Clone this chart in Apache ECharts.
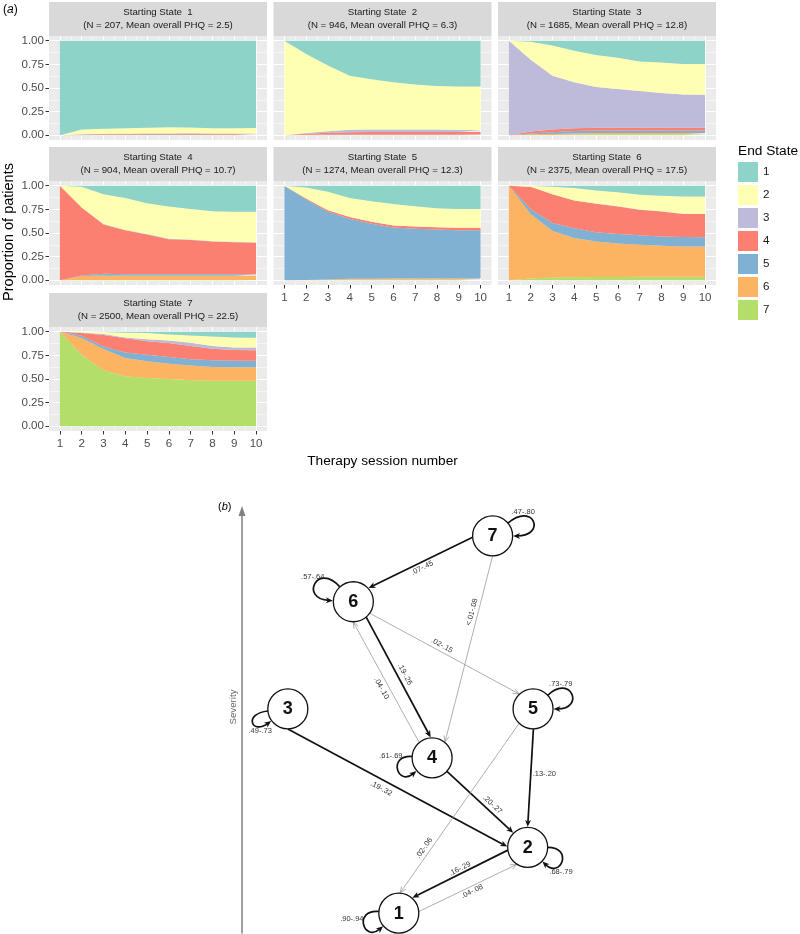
<!DOCTYPE html>
<html><head><meta charset="utf-8">
<script src="https://cdn.jsdelivr.net/npm/echarts@6/dist/echarts.min.js"></script>
<style>html,body{margin:0;padding:0;background:#fff}#c{width:800px;height:934px}</style>
</head><body><div id="c"></div>
<script>
// ---------------- DATA ----------------
const sessions = [1,2,3,4,5,6,7,8,9,10];
const sessionLabels = ['1','2','3','4','5','6','7','8','9','10'];
const endStates = ['1','2','3','4','5','6','7'];
const yTicks = [0, 0.25, 0.5, 0.75, 1];
const yMinorTicks = [0.125, 0.375, 0.625, 0.875];
const xMinorTicks = [1.5, 2.5, 3.5, 4.5, 5.5, 6.5, 7.5, 8.5, 9.5];
const startN = [207, 946, 1685, 904, 1274, 2375, 2500];
const startMeanPHQ = ['2.5', '6.3', '12.8', '10.7', '12.3', '17.5', '22.5'];

// proportion in each end state (rows: end state 1..7) by session 1..10
const start1 = [
  [1, .94, .93, .925, .92, .915, .918, .925, .925, .922],
  [0, .05, .055, .058, .06, .065, .06, .056, .056, .059],
  [0, .002, .002, .002, .002, .002, .002, .002, .002, .002],
  [0, .005, .006, .008, .008, .008, .01, .01, .01, .01],
  [0, .003, .005, .005, .008, .008, .008, .005, .005, .005],
  [0, 0, .002, .002, .002, .002, .002, .002, .002, .002],
  [0, 0, 0, 0, 0, 0, 0, 0, 0, 0]
];
const start2 = [
  [0, .14, .263, .37, .407, .439, .463, .48, .484, .484],
  [1, .835, .695, .572, .533, .501, .477, .46, .459, .461],
  [0, .01, .015, .025, .025, .025, .025, .025, .022, .02],
  [0, .01, .02, .025, .027, .027, .027, .027, .027, .027],
  [0, .003, .004, .005, .005, .005, .005, .005, .005, .005],
  [0, .002, .003, .003, .003, .003, .003, .003, .003, .003],
  [0, 0, 0, 0, 0, 0, 0, 0, 0, 0]
];
const start3 = [
  [0, .01, .05, .105, .15, .18, .22, .23, .246, .246],
  [0, .19, .32, .335, .34, .33, .313, .324, .324, .326],
  [1, .76, .57, .485, .43, .41, .387, .366, .35, .348],
  [0, .02, .028, .03, .03, .03, .03, .03, .03, .03],
  [0, .01, .018, .025, .025, .025, .025, .025, .025, .025],
  [0, .007, .01, .012, .015, .015, .015, .015, .015, .015],
  [0, .003, .004, .008, .01, .01, .01, .01, .01, .01]
];
const start4 = [
  [0, .01, .09, .13, .186, .22, .246, .27, .274, .274],
  [0, .22, .314, .337, .324, .34, .324, .316, .319, .323],
  [0, 0, .005, .005, .005, .005, .005, .005, .005, .005],
  [1, .72, .521, .465, .422, .372, .362, .346, .339, .335],
  [0, .005, .02, .015, .015, .015, .015, .015, .015, .015],
  [0, .042, .047, .045, .045, .045, .045, .045, .045, .045],
  [0, .003, .003, .003, .003, .003, .003, .003, .003, .003]
];
const start5 = [
  [0, .02, .064, .13, .163, .194, .216, .237, .247, .247],
  [0, .114, .196, .20, .217, .226, .214, .203, .198, .198],
  [0, 0, 0, 0, 0, 0, 0, 0, 0, 0],
  [0, .011, .016, .02, .023, .022, .026, .023, .025, .025],
  [1, .852, .716, .635, .58, .54, .526, .519, .512, .512],
  [0, .003, .005, .01, .012, .013, .013, .013, .013, .013],
  [0, 0, .003, .005, .005, .005, .005, .005, .005, .005]
];
const start6 = [
  [0, 0, .01, .025, .05, .07, .095, .105, .113, .113],
  [0, .01, .08, .13, .137, .147, .157, .165, .184, .184],
  [0, 0, 0, .002, .003, .003, .003, .003, .003, .003],
  [0, .24, .303, .293, .303, .29, .27, .263, .243, .246],
  [0, .05, .087, .104, .097, .10, .10, .10, .10, .097],
  [1, .68, .49, .413, .375, .355, .339, .328, .321, .321],
  [0, .02, .03, .033, .035, .035, .036, .036, .036, .036]
];
const start7 = [
  [0, 0, .004, .01, .014, .03, .04, .05, .06, .063],
  [0, .007, .021, .05, .066, .062, .076, .10, .106, .103],
  [0, .007, .01, .01, .02, .028, .034, .03, .028, .031],
  [0, .028, .12, .15, .143, .148, .14, .123, .112, .109],
  [0, .025, .028, .058, .07, .07, .066, .07, .071, .071],
  [0, .176, .225, .194, .177, .162, .158, .145, .141, .141],
  [1, .757, .592, .528, .51, .50, .486, .482, .482, .482]
];
const panels = [start1, start2, start3, start4, start5, start6, start7];

// network (b): states placed by horizontal position and severity
const nodeIds = ['1','2','3','4','5','6','7'];
const nodeX = [43.8, 79.8, 12.8, 53.1, 81.3, 31.1, 70.0];
const nodeSeverity = [4.7, 20.3, 53.1, 41.5, 53.1, 78.5, 94.1];
const selfLoopLabels = ['.90-.94', '.68-.79', '.49-.73', '.61-.69', '.73-.79', '.57-.64', '.47-.80'];
const edgeFrom = [7, 7, 6, 6, 4, 3, 4, 5, 5, 2, 1];
const edgeTo   = [6, 4, 5, 4, 6, 2, 2, 2, 1, 1, 2];
const edgeLabels = ['.07-.45', '<.01-.08', '.02-.15', '.19-.26', '.04-.10', '.19-.32', '.20-.27', '.13-.20', '.02-.06', '.16-.29', '.04-.08'];
const edgeStrong = [true, false, false, true, false, true, true, true, false, true, false];

// ---------------- STYLE / LAYOUT ----------------
const FONT = "'Liberation Sans', Arial, Helvetica, sans-serif";
const stateColors = ['#8DD3C7', '#FFFFB3', '#BEBADA', '#FB8072', '#80B1D3', '#FDB462', '#B3DE69'];
const colLeft = [49, 273.5, 498];
const panelW = 218;
const rowPlotTop = [36, 181, 327];
const plotH = 104;
const stripH = 34;
const panelsWithX = [4, 5, 6];
const nodeRadius = 20;
const edgeAnchors = [[176, -42], [90, -51], [35, -133], [50, -94], [-130, 90], [90, 182], [42, -135], [89, -90], [134, -86], [172, -48.7], [-4.5, 123]];
const edgeLabelPlace = [[0.507, -5.5], [0.31, 6], [0.465, -5.9], [0.503, -7], [0.479, -7.1], [0.444, 8.4], [0.619, -6.5], [0.45, -13.5, 'h'], [0.757, 6.1], [0.48, 4.7], [0.524, 5]];
const loopAngles = [[185, 140], [0, 44], [174, 144], [184, 140], [-43, 0], [228, 183], [-40, 0]];
const loopReach = [46, 46, 45, 45, 52, 54, 54];
const loopLabelOffset = [[-47, 6], [33.3, 24.4], [-27.7, 22], [-41.3, -2.3], [27.7, -25], [-40.6, -24.5], [30.6, -23.7]];

const option = {
  animation: false,
  backgroundColor: '#fff',
  textStyle: { fontFamily: FONT },
  grid: [], xAxis: [], yAxis: [], series: [],
  legend: {
    data: endStates, orient: 'vertical', left: 738, top: 162,
    itemWidth: 20, itemHeight: 20, itemGap: 3, icon: 'rect', selectedMode: false,
    textStyle: { fontSize: 11.6, color: '#1A1A1A', fontFamily: FONT }, padding: 0
  },
  graphic: { elements: [] }
};

panels.forEach((data, p) => {
  const col = p % 3, row = Math.floor(p / 3);
  const left = colLeft[col], top = rowPlotTop[row];
  const hasX = panelsWithX.includes(p);
  const hasY = col === 0;
  const gi = option.grid.length;
  option.grid.push({ left: left, top: top, width: panelW, height: plotH, show: true,
    backgroundColor: '#EBEBEB', borderWidth: 0, outerBoundsMode: 'none' });
  option.xAxis.push({ gridIndex: gi, type: 'value', min: 0.5, max: 10.5,
    axisLine: { show: false },
    axisTick: { show: false, customValues: xMinorTicks },
    axisLabel: { show: false, customValues: xMinorTicks },
    splitLine: { show: true, lineStyle: { color: '#FFFFFF', width: 0.5 } } });
  option.xAxis.push({ gridIndex: gi, type: 'value', min: 0.5, max: 10.5,
    axisLine: { show: false },
    axisTick: { show: false, customValues: sessions },
    axisLabel: { show: false, customValues: sessions },
    splitLine: { show: true, lineStyle: { color: '#FFFFFF', width: 1 } } });
  const xi = option.xAxis.length;
  option.xAxis.push({ gridIndex: gi, type: 'category', data: sessionLabels, boundaryGap: true, position: 'bottom',
    axisLine: { show: false },
    axisTick: { show: hasX, alignWithLabel: true, length: 3.5, lineStyle: { color: '#333', width: 1 } },
    axisLabel: { show: hasX, interval: 0, color: '#4D4D4D', fontSize: 11.6, margin: 7, fontFamily: FONT },
    splitLine: { show: false } });
  option.yAxis.push({ gridIndex: gi, type: 'value', min: -0.05, max: 1.05, position: 'right',
    axisLine: { show: false },
    axisTick: { show: false, customValues: yMinorTicks },
    axisLabel: { show: false, customValues: yMinorTicks },
    splitLine: { show: true, lineStyle: { color: '#FFFFFF', width: 0.5 } } });
  const yi = option.yAxis.length;
  option.yAxis.push({ gridIndex: gi, type: 'value', min: -0.05, max: 1.05, position: 'left',
    axisLine: { show: false },
    axisTick: { show: hasY, customValues: yTicks, length: 3.5, lineStyle: { color: '#333', width: 1 } },
    axisLabel: { show: hasY, customValues: yTicks, color: '#4D4D4D', fontSize: 11.6, margin: 5, fontFamily: FONT,
      formatter: v => Number(v).toFixed(2) },
    splitLine: { show: true, lineStyle: { color: '#FFFFFF', width: 1 } } });

  for (let j = 6; j >= 0; j--) {
    const c = stateColors[j];
    option.series.push({
      type: 'line', name: endStates[j], xAxisIndex: xi, yAxisIndex: yi,
      stack: 'panel' + p, stackStrategy: 'all',
      data: data[j],
      symbol: 'none', showSymbol: false, smooth: false, silent: true,
      lineStyle: { width: 0, color: c }, itemStyle: { color: c },
      areaStyle: { color: c, opacity: 1 }, z: 2
    });
  }

  option.graphic.elements.push({ type: 'rect', silent: true,
    shape: { x: left, y: top - stripH, width: panelW, height: stripH },
    style: { fill: '#D9D9D9' } });
  option.graphic.elements.push({ type: 'text', silent: true,
    x: left + panelW / 2, y: top - stripH / 2,
    style: { text: 'Starting State  ' + (p + 1) + '\n(N = ' + startN[p] + ', Mean overall PHQ = ' + startMeanPHQ[p] + ')',
      fill: '#1A1A1A', fontSize: 9.7, fontFamily: FONT, lineHeight: 12.5,
      align: 'center', verticalAlign: 'middle' } });
});

// ---------- network grid ----------
const NG = option.grid.length;
option.grid.push({ left: 242, top: 511, width: 358, height: 422, show: false, outerBoundsMode: 'none' });
const NX = option.xAxis.length;
option.xAxis.push({ gridIndex: NG, type: 'value', min: 0, max: 100, show: false });
const NY = option.yAxis.length;
option.yAxis.push({ gridIndex: NG, type: 'value', min: 0, max: 100,
  axisLine: { show: true, onZero: false, symbol: ['none', 'triangle'], symbolSize: [7, 10],
    lineStyle: { color: '#808080', width: 1.5 } },
  axisTick: { show: false }, axisLabel: { show: false }, splitLine: { show: false } });

function unit(a, b) {
  const dx = b[0] - a[0], dy = b[1] - a[1];
  const L = Math.sqrt(dx * dx + dy * dy);
  return [dx / L, dy / L, L];
}
function arrowHead(tip, u, strong, color) {
  const n = [-u[1], u[0]];
  if (strong) {
    const L = 7, W = 3, N = 5;
    return { type: 'polygon', shape: { points: [
      tip,
      [tip[0] - u[0] * L + n[0] * W, tip[1] - u[1] * L + n[1] * W],
      [tip[0] - u[0] * N, tip[1] - u[1] * N],
      [tip[0] - u[0] * L - n[0] * W, tip[1] - u[1] * L - n[1] * W]] },
      style: { fill: color } };
  }
  const L = 6, W = 2.6;
  return { type: 'polyline', shape: { points: [
    [tip[0] - u[0] * L + n[0] * W, tip[1] - u[1] * L + n[1] * W], tip,
    [tip[0] - u[0] * L - n[0] * W, tip[1] - u[1] * L - n[1] * W]] },
    style: { stroke: color, lineWidth: 0.8, fill: 'none' } };
}
const rad = d => d * Math.PI / 180;

// edges
option.series.push({
  type: 'custom', coordinateSystem: 'cartesian2d', xAxisIndex: NX, yAxisIndex: NY,
  clip: false, silent: true, z: 3,
  data: edgeFrom.map((f, i) => [nodeX[f - 1], nodeSeverity[f - 1], nodeX[edgeTo[i] - 1], nodeSeverity[edgeTo[i] - 1]]),
  encode: { x: [0, 2], y: [1, 3] },
  renderItem: function (params, api) {
    const i = params.dataIndex;
    const a = api.coord([api.value(0), api.value(1)]);
    const b = api.coord([api.value(2), api.value(3)]);
    const [angA, angB] = edgeAnchors[i];
    const s = [a[0] + nodeRadius * Math.cos(rad(angA)), a[1] + nodeRadius * Math.sin(rad(angA))];
    const e = [b[0] + (nodeRadius + 0.5) * Math.cos(rad(angB)), b[1] + (nodeRadius + 0.5) * Math.sin(rad(angB))];
    const strong = edgeStrong[i];
    const color = strong ? '#111111' : '#9A9A9A';
    const [ux, uy, L] = unit(s, e);
    const u = [ux, uy], n = [-uy, ux];
    const back = strong ? 5 : 0;
    const [t, off, mode] = edgeLabelPlace[i];
    const lx = s[0] + ux * L * t + n[0] * off;
    const ly = s[1] + uy * L * t + n[1] * off;
    let th = Math.atan2(uy, ux);
    if (th > Math.PI / 2) th -= Math.PI;
    if (th < -Math.PI / 2) th += Math.PI;
    return { type: 'group', children: [
      { type: 'line', shape: { x1: s[0], y1: s[1], x2: e[0] - ux * back, y2: e[1] - uy * back },
        style: { stroke: color, lineWidth: strong ? 1.7 : 0.8 } },
      arrowHead(e, u, strong, color),
      { type: 'text', x: lx, y: ly, rotation: mode === 'h' ? 0 : -th,
        style: { text: edgeLabels[i], fill: '#333', fontSize: 7.5, fontFamily: FONT,
          align: 'center', verticalAlign: 'middle' } }
    ] };
  }
});

// self loops
option.series.push({
  type: 'custom', coordinateSystem: 'cartesian2d', xAxisIndex: NX, yAxisIndex: NY,
  clip: false, silent: true, z: 3,
  data: nodeIds.map((id, i) => [nodeX[i], nodeSeverity[i]]),
  encode: { x: 0, y: 1 },
  renderItem: function (params, api) {
    const i = params.dataIndex;
    const c = api.coord([api.value(0), api.value(1)]);
    const [a1, a2] = loopAngles[i];
    const R = loopReach[i];
    const pt = (a, r) => [c[0] + r * Math.cos(rad(a)), c[1] + r * Math.sin(rad(a))];
    const S = pt(a1, nodeRadius), E = pt(a2, nodeRadius + 0.5), C1 = pt(a1, R), C2 = pt(a2, R);
    const [ux, uy] = unit(C2, E);
    const off = loopLabelOffset[i];
    return { type: 'group', children: [
      { type: 'bezierCurve', shape: { x1: S[0], y1: S[1], cpx1: C1[0], cpy1: C1[1], cpx2: C2[0], cpy2: C2[1],
          x2: E[0] - ux * 4, y2: E[1] - uy * 4 },
        style: { stroke: '#111111', lineWidth: 1.7, fill: 'none' } },
      arrowHead(E, [ux, uy], true, '#111111'),
      { type: 'text', x: c[0] + off[0], y: c[1] + off[1],
        style: { text: selfLoopLabels[i], fill: '#333', fontSize: 7.5, fontFamily: FONT,
          align: 'center', verticalAlign: 'middle' } }
    ] };
  }
});

// nodes
option.series.push({
  type: 'custom', coordinateSystem: 'cartesian2d', xAxisIndex: NX, yAxisIndex: NY,
  clip: false, silent: true, z: 4,
  data: nodeIds.map((id, i) => [nodeX[i], nodeSeverity[i]]),
  encode: { x: 0, y: 1 },
  renderItem: function (params, api) {
    const i = params.dataIndex;
    const c = api.coord([api.value(0), api.value(1)]);
    return { type: 'group', children: [
      { type: 'circle', shape: { cx: c[0], cy: c[1], r: nodeRadius },
        style: { fill: '#FFFFFF', stroke: '#111111', lineWidth: 1.3 } },
      { type: 'text', x: c[0], y: c[1] + 0.5,
        style: { text: nodeIds[i], fill: '#111', fontSize: 18, fontWeight: 'bold', fontFamily: FONT,
          align: 'center', verticalAlign: 'middle' } }
    ] };
  }
});

option.graphic.elements.push(
  { type: 'text', silent: true, x: 3, y: 10,
    style: { text: '({i|a})', fill: '#000', fontSize: 12, fontFamily: FONT, align: 'left', verticalAlign: 'middle',
      rich: { i: { fontStyle: 'italic', fontSize: 12, fontFamily: FONT, fill: '#000' } } } },
  { type: 'text', silent: true, x: 8.5, y: 232, rotation: Math.PI / 2,
    style: { text: 'Proportion of patients', fill: '#000', fontSize: 14.5, fontFamily: FONT, align: 'center', verticalAlign: 'middle' } },
  { type: 'text', silent: true, x: 382.5, y: 461,
    style: { text: 'Therapy session number', fill: '#000', fontSize: 13.7, fontFamily: FONT, align: 'center', verticalAlign: 'middle' } },
  { type: 'text', silent: true, x: 738, y: 151,
    style: { text: 'End State', fill: '#000', fontSize: 13.7, fontFamily: FONT, align: 'left', verticalAlign: 'middle' } },
  { type: 'text', silent: true, x: 218, y: 507,
    style: { text: '({i|b})', fill: '#000', fontSize: 11, fontFamily: FONT, align: 'left', verticalAlign: 'middle',
      rich: { i: { fontStyle: 'italic', fontSize: 11, fontFamily: FONT, fill: '#000' } } } },
  { type: 'text', silent: true, x: 233.3, y: 707, rotation: Math.PI / 2,
    style: { text: 'Severity', fill: '#666', fontSize: 9.7, fontFamily: FONT, align: 'center', verticalAlign: 'middle' } }
);

const chart = echarts.init(document.getElementById('c'), null, { renderer: 'canvas' });
chart.setOption(option);
</script>
</body></html>
